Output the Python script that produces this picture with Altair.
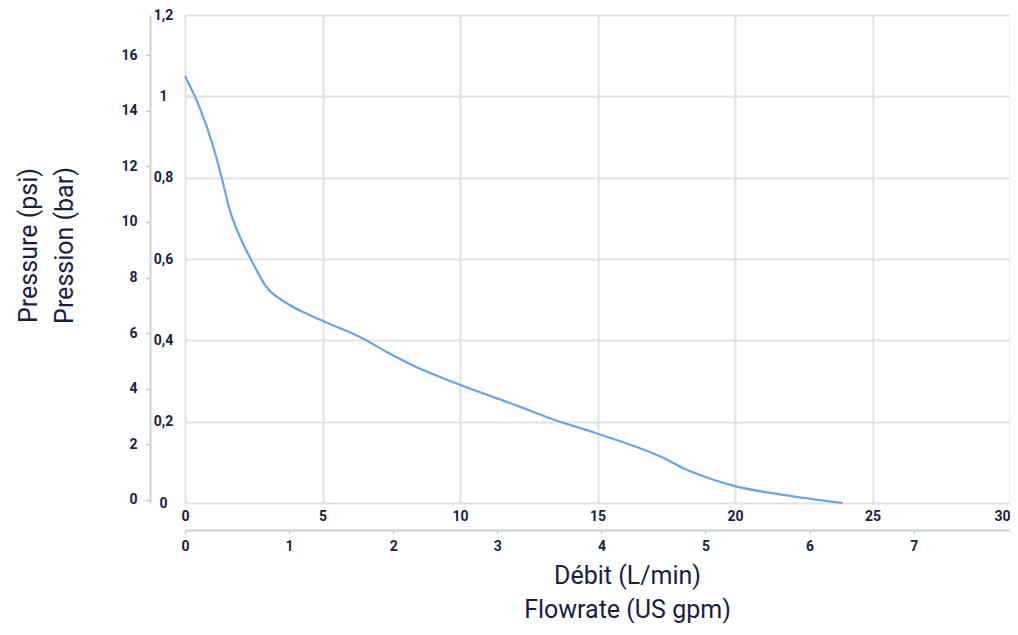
import altair as alt
import pandas as pd

# Curve: flow (L/min) vs pressure (bar)
flow_lpm = [0, 0.54, 1.01, 1.32, 1.62, 2.04, 2.40, 2.94, 3.66, 4.50, 5.14, 6.40, 7.37,
            8.45, 10.0, 12.16, 13.24, 14.93, 17.55, 18.17, 19.0, 19.96, 21.76, 23.92]
pressure_bar = [1.050, 0.971, 0.880, 0.804, 0.722, 0.648, 0.599, 0.533, 0.493, 0.463, 0.444,
                0.407, 0.370, 0.333, 0.291, 0.237, 0.209, 0.172, 0.106, 0.084, 0.062, 0.042,
                0.020, 0.0]

lpm_ticks = [0, 5, 10, 15, 20, 25, 30]
gpm_ticks = [0, 1, 2, 3, 4, 5, 6, 7]
bar_ticks = [0, 0.2, 0.4, 0.6, 0.8, 1.0, 1.2]
psi_ticks = [0, 2, 4, 6, 8, 10, 12, 14, 16]

LPM_MAX = 30
GPM_MAX = 30 / 3.78541
BAR_MAX = 1.2

NAVY = "#1b1d45"
GRID = "#e2e2e2"
FONT = "Roboto"

curve = pd.DataFrame({"lpm": flow_lpm, "bar": pressure_bar})
gpm_df = pd.DataFrame({"gpm": gpm_ticks, "bar": [0] * len(gpm_ticks)})
psi_df = pd.DataFrame({"lpm": [0] * len(psi_ticks), "psi": psi_ticks})

label_style = dict(labelFont=FONT, labelFontSize=14, labelFontWeight="bold", labelColor=NAVY)
title_style = dict(titleFont=FONT, titleFontSize=25, titleFontWeight="normal", titleColor=NAVY)

line = alt.Chart(curve).mark_line(color="#6aa5e4", strokeWidth=2.2, interpolate="monotone").encode(
    x=alt.X("lpm:Q", scale=alt.Scale(domain=[0, LPM_MAX], nice=False, zero=True),
            axis=alt.Axis(values=lpm_ticks, grid=True, gridColor=GRID, gridWidth=2,
                          domain=False, ticks=False, labelPadding=6, labelFlush=False,
                          labelAlign=alt.ExprRef(expr=f"datum.value >= {LPM_MAX} ? 'right' : 'center'"),
                          title="Débit (L/min)", titleX=442, titleY=80,
                          titleBaseline="alphabetic", **label_style, **title_style)),
    y=alt.Y("bar:Q", scale=alt.Scale(domain=[0, BAR_MAX], nice=False),
            axis=alt.Axis(values=bar_ticks, grid=True, gridColor=GRID, gridWidth=2,
                          domain=False, ticks=False, labelPadding=22, labelAlign="center",
                          labelBaseline="middle", labelFlush=False,
                          labelExpr="replace(format(datum.value, '.1~f'), '.', ',')",
                          title="Pression (bar)", titleX=-113, titleY=230,
                          titleBaseline="alphabetic", titleAngle=-90,
                          **label_style, **title_style)),
)

gpm_axis = alt.Chart(gpm_df).mark_point(opacity=0).encode(
    x=alt.X("gpm:Q", scale=alt.Scale(domain=[0, GPM_MAX], nice=False),
            axis=alt.Axis(values=gpm_ticks, grid=False, domain=True, domainColor="#cfcfcf",
                          domainWidth=2, ticks=True, tickColor="#cfcfcf", tickSize=4,
                          tickWidth=1.5, labelPadding=5, offset=27, labelFlush=False,
                          orient="bottom",
                          title="Flowrate (US gpm)", titleX=442, titleY=87,
                          titleBaseline="alphabetic", **label_style, **title_style)),
    y=alt.Y("bar:Q", scale=alt.Scale(domain=[0, BAR_MAX], nice=False), axis=None),
)

psi_axis = alt.Chart(psi_df).mark_point(opacity=0).encode(
    x=alt.X("lpm:Q", scale=alt.Scale(domain=[0, LPM_MAX], nice=False), axis=None),
    y=alt.Y("psi:Q", scale=alt.Scale(domain=[-0.108, 17.44], nice=False, zero=False),
            axis=alt.Axis(values=psi_ticks, grid=False, domain=True, domainColor="#cfcfcf",
                          domainWidth=2, ticks=True, tickColor="#cfcfcf", tickSize=5,
                          tickWidth=1.5, labelPadding=8, offset=35, orient="left",
                          labelFlush=False, labelBaseline="middle",
                          title="Pressure (psi)", titleX=-114, titleY=230,
                          titleBaseline="alphabetic", titleAngle=-90,
                          **label_style, **title_style)),
)

chart = alt.layer(line, gpm_axis, psi_axis).resolve_scale(
    x="independent", y="independent"
).resolve_axis(x="independent", y="independent").properties(
    width=825, height=488,
    padding={"left": 177, "top": 7, "right": 0, "bottom": 120},
    autosize=alt.AutoSizeParams(type="none"),
).configure_view(stroke=None).configure(background="white")

chart.save("out.html", embed_options={"renderer": "svg", "actions": False})
